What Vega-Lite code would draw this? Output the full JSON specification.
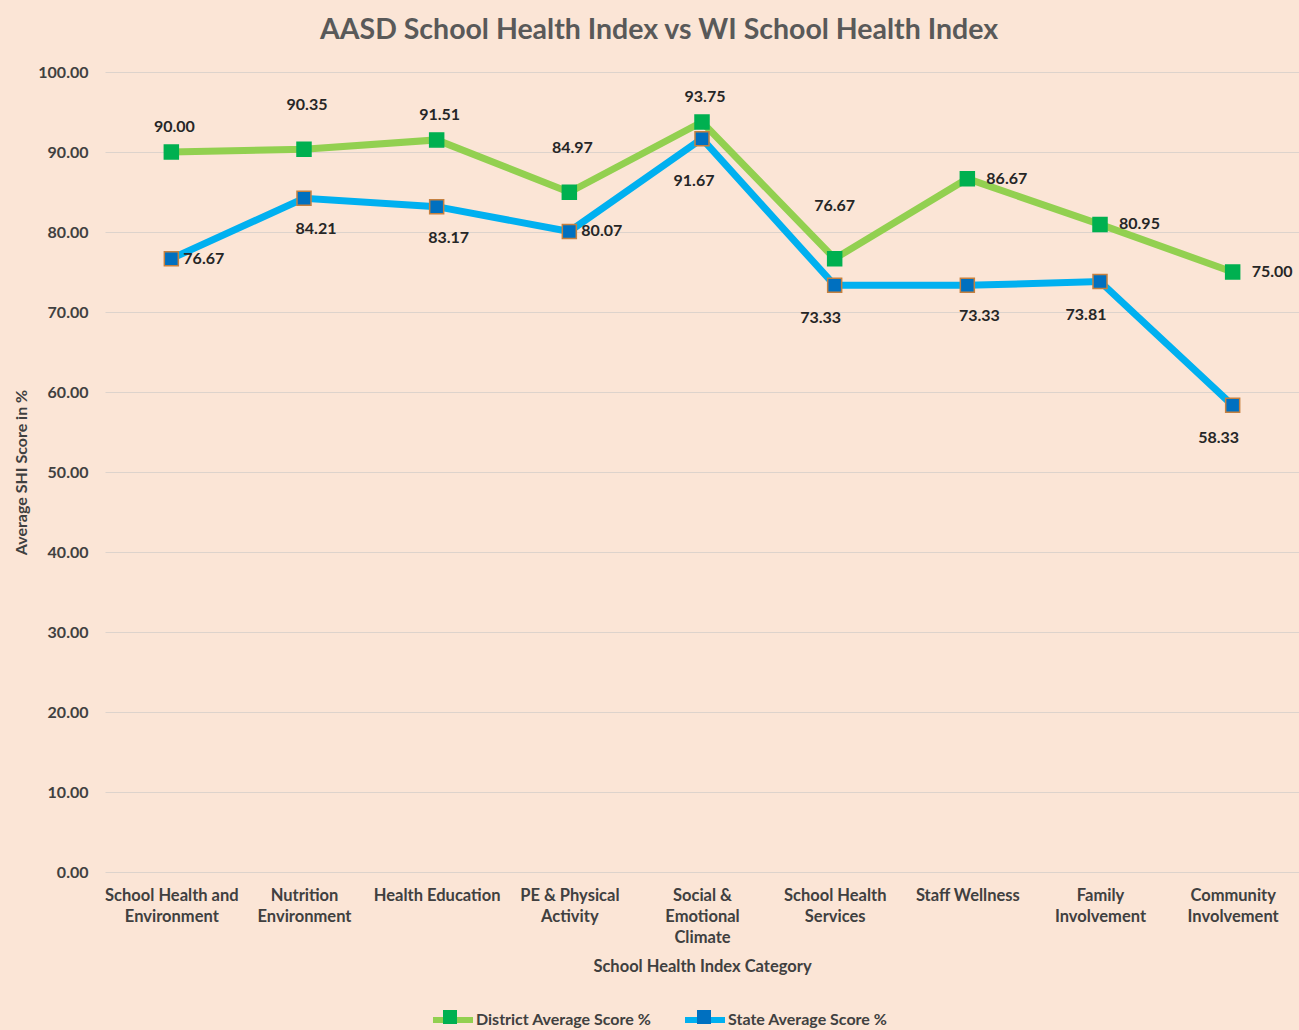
{
  "$schema": "https://vega.github.io/schema/vega-lite/v6.json",
  "width": 1194,
  "height": 800,
  "autosize": {"type": "none"},
  "padding": {"left": 105, "top": 72, "right": 0, "bottom": 158},
  "background": "#FBE5D6",
  "title": {"text": "AASD School Health Index vs WI School Health Index", "fontSize": 28.5, "font": "Lato", "fontWeight": "bold", "color": "#595959", "anchor": "middle", "dx": -43, "offset": 20},
  "data": {"values": [
    {"cat": "School Health and Environment", "series": "District Average Score %", "value": 90.00},
    {"cat": "Nutrition Environment", "series": "District Average Score %", "value": 90.35},
    {"cat": "Health Education", "series": "District Average Score %", "value": 91.51},
    {"cat": "PE & Physical Activity", "series": "District Average Score %", "value": 84.97},
    {"cat": "Social & Emotional Climate", "series": "District Average Score %", "value": 93.75},
    {"cat": "School Health Services", "series": "District Average Score %", "value": 76.67},
    {"cat": "Staff Wellness", "series": "District Average Score %", "value": 86.67},
    {"cat": "Family Involvement", "series": "District Average Score %", "value": 80.95},
    {"cat": "Community Involvement", "series": "District Average Score %", "value": 75.00},
    {"cat": "School Health and Environment", "series": "State Average Score %", "value": 76.67},
    {"cat": "Nutrition Environment", "series": "State Average Score %", "value": 84.21},
    {"cat": "Health Education", "series": "State Average Score %", "value": 83.17},
    {"cat": "PE & Physical Activity", "series": "State Average Score %", "value": 80.07},
    {"cat": "Social & Emotional Climate", "series": "State Average Score %", "value": 91.67},
    {"cat": "School Health Services", "series": "State Average Score %", "value": 73.33},
    {"cat": "Staff Wellness", "series": "State Average Score %", "value": 73.33},
    {"cat": "Family Involvement", "series": "State Average Score %", "value": 73.81},
    {"cat": "Community Involvement", "series": "State Average Score %", "value": 58.33}
  ]},
  "encoding": {
    "x": {
      "field": "cat", "type": "nominal",
      "sort": ["School Health and Environment", "Nutrition Environment", "Health Education", "PE & Physical Activity", "Social & Emotional Climate", "School Health Services", "Staff Wellness", "Family Involvement", "Community Involvement"],
      "scale": {"type": "point", "padding": 0.5},
      "axis": {
        "title": "School Health Index Category",
        "labelAngle": 0, "labelPadding": 15, "labelFontSize": 16.5, "labelFontWeight": "bold", "labelColor": "#404040", "labelLineHeight": 21, "labelBaseline": "top",
        "labelExpr": "datum.value == 'School Health and Environment' ? ['School Health and','Environment'] : datum.value == 'Nutrition Environment' ? ['Nutrition','Environment'] : datum.value == 'PE & Physical Activity' ? ['PE & Physical','Activity'] : datum.value == 'Social & Emotional Climate' ? ['Social &','Emotional','Climate'] : datum.value == 'School Health Services' ? ['School Health','Services'] : datum.value == 'Family Involvement' ? ['Family','Involvement'] : datum.value == 'Community Involvement' ? ['Community','Involvement'] : datum.value",
        "ticks": false, "domain": false, "grid": false,
        "titleFontSize": 16.5, "titleFontWeight": "bold", "titleColor": "#404040", "titlePadding": 13
      }
    },
    "y": {
      "field": "value", "type": "quantitative",
      "scale": {"domain": [0, 100], "nice": false},
      "axis": {
        "title": "Average SHI Score in %", "values": [0, 10, 20, 30, 40, 50, 60, 70, 80, 90, 100], "format": ".2f",
        "labelFontSize": 16, "labelFontWeight": "bold", "labelColor": "#404040", "labelPadding": 17,
        "ticks": false, "domain": false, "grid": true, "gridColor": "#DDD3CC", "gridWidth": 1,
        "titleFontSize": 16, "titleFontWeight": "bold", "titleColor": "#404040", "titlePadding": 8
      }
    }
  },
  "layer": [
    {
      "mark": {"type": "line", "strokeWidth": 7},
      "encoding": {
        "stroke": {
          "field": "series", "type": "nominal",
          "scale": {"domain": ["District Average Score %", "State Average Score %"], "range": ["#92D050", "#00B0F0"]},
          "legend": {"orient": "none", "legendX": 325, "legendY": 925, "direction": "horizontal", "title": null, "symbolType": "stroke", "symbolSize": 1600, "symbolStrokeWidth": 6, "labelFontSize": 16, "labelFont": "Lato", "labelFontWeight": "bold", "labelColor": "#404040", "labelLimit": 400, "columnPadding": 21, "labelOffset": 0}
        }
      }
    },
    {
      "mark": {"type": "point", "shape": "square", "filled": true, "size": 196, "opacity": 1, "strokeWidth": 1.5},
      "encoding": {
        "fill": {
          "field": "series", "type": "nominal",
          "scale": {"range": ["#00B050", "#0070C0"]},
          "legend": {"orient": "none", "legendX": 325, "legendY": 925, "direction": "horizontal", "title": null, "symbolType": "M-0.35,-0.35H0.35V0.35H-0.35Z", "symbolSize": 1600, "symbolStrokeWidth": 0, "symbolOpacity": 1, "labelExpr": "''", "labelFontSize": 16, "columnPadding": 214, "labelOffset": 0}
        },
        "stroke": {"condition": {"test": "datum.series == 'State Average Score %'", "value": "#C5803F"}, "value": "#00B050"}
      }
    },
    {
      "transform": [{"filter": {"and": [{"field": "series", "equal": "District Average Score %"}, {"field": "cat", "oneOf": ["School Health and Environment", "Health Education", "Social & Emotional Climate"]}]}}],
      "mark": {"type": "text", "fontSize": 16, "fontWeight": "bold", "font": "Lato", "color": "#262626", "baseline": "middle", "align": "center", "dy": -25, "dx": 3},
      "encoding": {"text": {"field": "value", "type": "quantitative", "format": ".2f"}}
    },
    {
      "transform": [{"filter": {"and": [{"field": "series", "equal": "District Average Score %"}, {"field": "cat", "oneOf": ["Nutrition Environment", "PE & Physical Activity"]}]}}],
      "mark": {"type": "text", "fontSize": 16, "fontWeight": "bold", "font": "Lato", "color": "#262626", "baseline": "middle", "align": "center", "dy": -44, "dx": 3},
      "encoding": {"text": {"field": "value", "type": "quantitative", "format": ".2f"}}
    },
    {
      "transform": [{"filter": {"and": [{"field": "series", "equal": "District Average Score %"}, {"field": "cat", "oneOf": ["School Health Services"]}]}}],
      "mark": {"type": "text", "fontSize": 16, "fontWeight": "bold", "font": "Lato", "color": "#262626", "baseline": "middle", "align": "center", "dy": -53},
      "encoding": {"text": {"field": "value", "type": "quantitative", "format": ".2f"}}
    },
    {
      "transform": [{"filter": {"and": [{"field": "series", "equal": "District Average Score %"}, {"field": "cat", "oneOf": ["Staff Wellness", "Family Involvement", "Community Involvement"]}]}}],
      "mark": {"type": "text", "fontSize": 16, "fontWeight": "bold", "font": "Lato", "color": "#262626", "baseline": "middle", "align": "left", "dx": 19},
      "encoding": {"text": {"field": "value", "type": "quantitative", "format": ".2f"}}
    },
    {
      "transform": [{"filter": {"and": [{"field": "series", "equal": "State Average Score %"}, {"field": "cat", "oneOf": ["School Health and Environment", "PE & Physical Activity"]}]}}],
      "mark": {"type": "text", "fontSize": 16, "fontWeight": "bold", "font": "Lato", "color": "#262626", "baseline": "middle", "align": "left", "dx": 12},
      "encoding": {"text": {"field": "value", "type": "quantitative", "format": ".2f"}}
    },
    {
      "transform": [{"filter": {"and": [{"field": "series", "equal": "State Average Score %"}, {"field": "cat", "oneOf": ["Nutrition Environment", "Health Education", "Staff Wellness"]}]}}],
      "mark": {"type": "text", "fontSize": 16, "fontWeight": "bold", "font": "Lato", "color": "#262626", "baseline": "middle", "align": "center", "dx": 12, "dy": 31},
      "encoding": {"text": {"field": "value", "type": "quantitative", "format": ".2f"}}
    },
    {
      "transform": [{"filter": {"and": [{"field": "series", "equal": "State Average Score %"}, {"field": "cat", "oneOf": ["School Health Services", "Family Involvement", "Community Involvement"]}]}}],
      "mark": {"type": "text", "fontSize": 16, "fontWeight": "bold", "font": "Lato", "color": "#262626", "baseline": "middle", "align": "center", "dx": -14, "dy": 33},
      "encoding": {"text": {"field": "value", "type": "quantitative", "format": ".2f"}}
    },
    {
      "transform": [{"filter": {"and": [{"field": "series", "equal": "State Average Score %"}, {"field": "cat", "oneOf": ["Social & Emotional Climate"]}]}}],
      "mark": {"type": "text", "fontSize": 16, "fontWeight": "bold", "font": "Lato", "color": "#262626", "baseline": "middle", "align": "center", "dx": -8, "dy": 42},
      "encoding": {"text": {"field": "value", "type": "quantitative", "format": ".2f"}}
    }
  ],
  "config": {
    "view": {"stroke": null},
    "font": "Lato",
    "axis": {"labelFont": "Lato", "titleFont": "Lato"},
    "legend": {"labelFont": "Lato"}
  }
}
